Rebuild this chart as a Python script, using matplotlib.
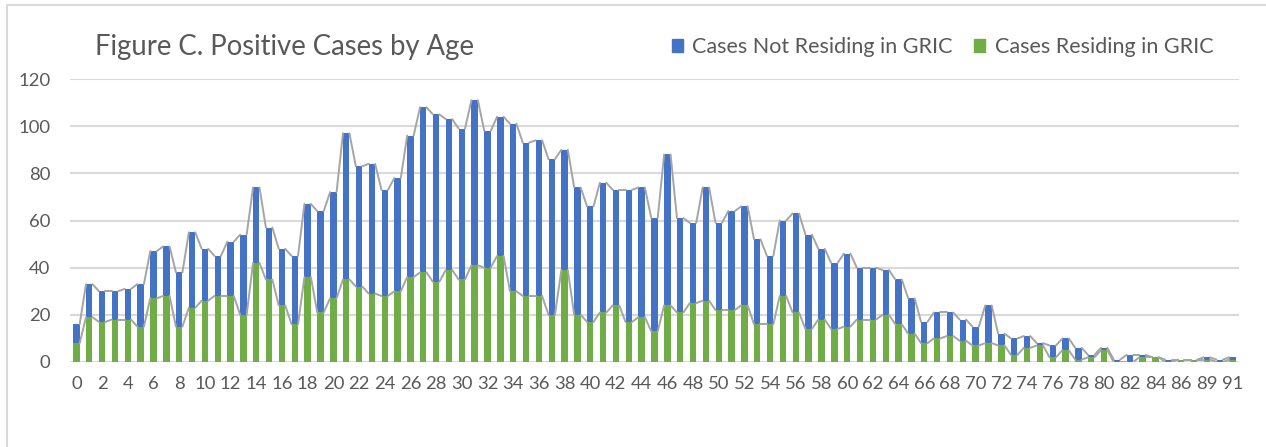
import matplotlib
matplotlib.use("Agg")
import matplotlib.pyplot as plt
from matplotlib.lines import Line2D
from matplotlib.patches import Patch

# ages on the x axis (no 88 in the source data)
ages = [str(a) for a in range(0, 88)] + ["89", "90", "91"]

# cases residing in GRIC (green, bottom of stack)
residing = [8, 19, 17, 18, 18, 15, 27, 28, 15, 23,
            26, 28, 28, 20, 42, 35, 24, 16, 36, 21,
            27, 35, 32, 29, 28, 30, 36, 38, 34, 39,
            35, 41, 40, 45, 30, 28, 28, 20, 39, 20,
            17, 21, 24, 17, 19, 13, 24, 21, 25, 26,
            22, 22, 24, 16, 16, 28, 21, 14, 18, 14,
            15, 18, 18, 20, 16, 12, 8, 10, 11, 9,
            7, 8, 7, 3, 6, 7, 2, 5, 1, 2,
            5, 0, 0, 2, 2, 0, 1, 1, 1, 0, 1]

# cases not residing in GRIC (blue, top of stack)
not_residing = [8, 14, 13, 12, 13, 18, 20, 21, 23, 32,
                22, 17, 23, 34, 32, 22, 24, 29, 31, 43,
                45, 62, 51, 55, 45, 48, 60, 70, 71, 64,
                64, 70, 58, 59, 71, 65, 66, 66, 51, 54,
                49, 55, 49, 56, 55, 48, 64, 40, 34, 48,
                37, 42, 42, 36, 29, 32, 42, 40, 30, 28,
                31, 22, 22, 19, 19, 15, 9, 11, 10, 9,
                8, 16, 5, 7, 5, 1, 5, 5, 5, 1,
                1, 1, 3, 1, 0, 1, 0, 0, 1, 1, 1]

BLUE = "#4472C4"
GREEN = "#70AD47"
GRID = "#D9D9D9"
TEXT = "#595959"
SERIES_LINE = "#A5A5A5"

plt.rcParams["font.family"] = ["Lato", "DejaVu Sans"]

fig = plt.figure(figsize=(12.66, 4.47), dpi=100)
ax = fig.add_axes([70 / 1266, 85 / 447, 1169 / 1266, 283 / 447])

x = list(range(len(ages)))
totals = [g + b for g, b in zip(residing, not_residing)]
width = 0.5

ax.bar(x, residing, width=width, color=GREEN, zorder=3)
ax.bar(x, not_residing, width=width, bottom=residing, color=BLUE, zorder=3)

# excel style series lines between neighbouring bars
for series in (residing, totals):
    for i in range(len(x) - 1):
        ax.plot([x[i] + width / 2, x[i + 1] - width / 2],
                [series[i], series[i + 1]],
                color=SERIES_LINE, lw=1.4, zorder=4, solid_capstyle="round")

ax.set_xlim(-0.5, len(ages) - 0.5)
ax.set_ylim(0, 120)
ax.set_yticks(range(0, 121, 20))
ax.set_xticks(x[::2])
ax.set_xticklabels(ages[::2])
ax.tick_params(axis="y", length=0, pad=14, labelsize=13.3, labelcolor=TEXT)
ax.tick_params(axis="x", length=0, pad=10, labelsize=13.3, labelcolor=TEXT)
ax.grid(axis="y", color=GRID, lw=1.5, zorder=0)
for s in ax.spines.values():
    s.set_visible(False)

fig.text(95 / 1266, 1 - 47 / 447, "Figure C. Positive Cases by Age",
         fontsize=19.8, color=TEXT, va="center", ha="left")

handles = [Patch(color=BLUE), Patch(color=GREEN)]
fig.legend(handles, ["Cases Not Residing in GRIC", "Cases Residing in GRIC"],
           loc="center left", bbox_to_anchor=(672 / 1266, 1 - 47 / 447),
           ncol=2, frameon=False, fontsize=15.5, labelcolor=TEXT,
           handlelength=0.5, handleheight=0.6, handletextpad=0.45,
           columnspacing=1.0, borderpad=0, borderaxespad=0)

# chart area border (top and left edges visible)
fig.add_artist(Line2D([7 / 1266, 7 / 1266, 1.0], [0.0, 1 - 5 / 447, 1 - 5 / 447],
                      transform=fig.transFigure, color=GRID, lw=1.5))

fig.savefig("out.png", dpi=100)
